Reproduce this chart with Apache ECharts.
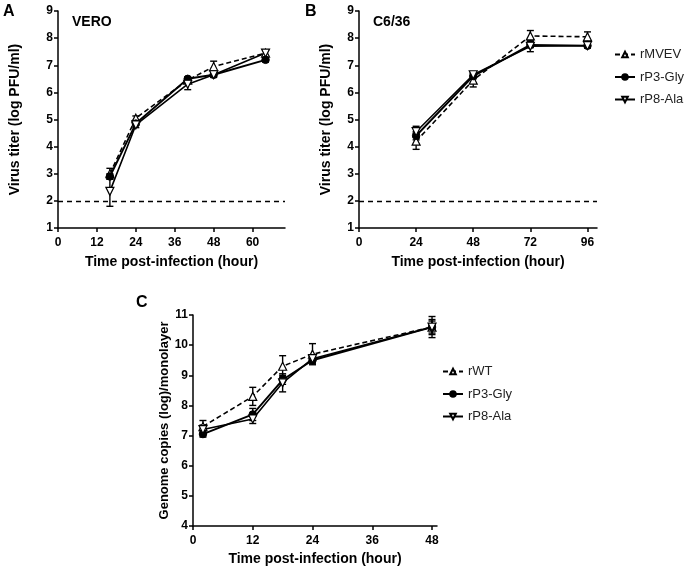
<!DOCTYPE html>
<html>
<head>
<meta charset="utf-8">
<script src="https://cdn.jsdelivr.net/npm/echarts@6/dist/echarts.min.js"></script>
<style>html,body{margin:0;padding:0;background:#fff}#c{width:685px;height:566px}</style>
</head>
<body>
<div id="c"></div>
<script>
// ---- Data ----
var timesA = [16, 24, 40, 48, 64];
var rMVEV_A = [3.0, 5.05, 6.45, 6.95, 7.45];
var rMVEV_A_err = [0.2, 0.08, 0.1, 0.2, 0.1];
var rP3_A = [2.9, 4.85, 6.5, 6.65, 7.2];
var rP3_A_err = [0.1, 0.05, 0.05, 0.08, 0.08];
var rP8_A = [2.35, 4.8, 6.3, 6.65, 7.45];
var rP8_A_err = [0.55, 0.1, 0.2, 0.1, 0.1];

var timesB = [24, 48, 72, 96];
var rMVEV_B = [4.2, 6.45, 8.08, 8.05];
var rMVEV_B_err = [0.3, 0.25, 0.2, 0.18];
var rP3_B = [4.4, 6.6, 7.75, 7.72];
var rP3_B_err = [0.15, 0.1, 0.1, 0.08];
var rP8_B = [4.55, 6.65, 7.7, 7.72];
var rP8_B_err = [0.2, 0.1, 0.2, 0.08];

var timesC = [2, 12, 18, 24, 48];
var rWT_C = [7.3, 8.3, 9.3, 9.7, 10.6];
var rWT_C_err = [0.2, 0.3, 0.35, 0.35, 0.35];
var rP3_C = [7.05, 7.7, 8.85, 9.5, 10.6];
var rP3_C_err = [0.1, 0.2, 0.15, 0.1, 0.25];
var rP8_C = [7.2, 7.55, 8.75, 9.55, 10.6];
var rP8_C_err = [0.15, 0.15, 0.3, 0.1, 0.2];

var xTicksA = [0, 12, 24, 36, 48, 60];
var xTicksB = [0, 24, 48, 72, 96];
var xTicksC = [0, 12, 24, 36, 48];
var detectionLimit = 2;

// ---- Helpers ----
var FONT = "'Liberation Sans', Arial, Helvetica, sans-serif";
function pairs(xs, ys) { return xs.map(function (x, i) { return [x, ys[i]]; }); }
function triples(xs, ys, es) { return xs.map(function (x, i) { return [x, ys[i], es[i]]; }); }

function errRender(params, api) {
  var x = api.value(0), y = api.value(1), e = api.value(2);
  var hi = api.coord([x, y + e]);
  var lo = api.coord([x, y - e]);
  var w = 3.5;
  var st = { stroke: '#000', lineWidth: 1.4 };
  return { type: 'group', children: [
    { type: 'line', shape: { x1: hi[0], y1: hi[1], x2: lo[0], y2: lo[1] }, style: st },
    { type: 'line', shape: { x1: hi[0] - w, y1: hi[1], x2: hi[0] + w, y2: hi[1] }, style: st },
    { type: 'line', shape: { x1: lo[0] - w, y1: lo[1], x2: lo[0] + w, y2: lo[1] }, style: st }
  ]};
}

var styles = {
  triUp: { symbol: 'triangle', symbolSize: 8, symbolRotate: 0,
    itemStyle: { color: '#fff', borderColor: '#000', borderWidth: 1.2 },
    lineStyle: { color: '#000', width: 1.6, type: [5, 3] } },
  circle: { symbol: 'circle', symbolSize: 7.5, symbolRotate: 0,
    itemStyle: { color: '#000', borderColor: '#000', borderWidth: 1 },
    lineStyle: { color: '#000', width: 1.9, type: 'solid' } },
  triDown: { symbol: 'triangle', symbolSize: 8, symbolRotate: 180,
    itemStyle: { color: '#fff', borderColor: '#000', borderWidth: 1.2 },
    lineStyle: { color: '#000', width: 1.6, type: 'solid' } }
};

function lineSeries(name, idx, xs, ys, st, extra) {
  var s = {
    type: 'line', name: name, xAxisIndex: idx, yAxisIndex: idx,
    data: pairs(xs, ys), symbol: st.symbol, symbolSize: st.symbolSize,
    symbolRotate: st.symbolRotate, showAllSymbol: true,
    itemStyle: st.itemStyle, lineStyle: st.lineStyle, z: 4
  };
  if (extra) for (var k in extra) s[k] = extra[k];
  return s;
}
function errSeries(name, idx, xs, ys, es) {
  return { type: 'custom', name: name, xAxisIndex: idx, yAxisIndex: idx,
    data: triples(xs, ys, es), renderItem: errRender,
    encode: { x: 0, y: 1 }, z: 3, silent: true };
}

var limitLine = {
  silent: true, symbol: ['none', 'none'], label: { show: false },
  lineStyle: { color: '#000', width: 1.4, type: [5, 4] },
  data: [{ yAxis: detectionLimit }]
};

function xAxis(idx, max, ticks, name, gap) {
  return {
    type: 'value', gridIndex: idx, min: 0, max: max, interval: ticks[1] - ticks[0],
    name: name, nameLocation: 'middle', nameGap: gap,
    nameTextStyle: { fontFamily: FONT, fontWeight: 'bold', fontSize: 14, color: '#000' },
    axisLine: { show: true, onZero: false, lineStyle: { color: '#000', width: 1.5 } },
    axisTick: { show: true, length: 4, customValues: ticks, lineStyle: { color: '#000', width: 1.5 } },
    axisLabel: { customValues: ticks, fontFamily: FONT, fontWeight: 'bold', fontSize: 12, color: '#000', margin: 9 },
    splitLine: { show: false }
  };
}
function yAxis(idx, min, max, name, gap, fs) {
  return {
    type: 'value', gridIndex: idx, min: min, max: max, interval: 1,
    name: name, nameLocation: 'middle', nameGap: gap,
    nameTextStyle: { fontFamily: FONT, fontWeight: 'bold', fontSize: fs, color: '#000' },
    axisLine: { show: true, onZero: false, lineStyle: { color: '#000', width: 1.5 } },
    axisTick: { show: true, length: 4, lineStyle: { color: '#000', width: 1.5 } },
    axisLabel: { fontFamily: FONT, fontWeight: 'bold', fontSize: 12, color: '#000', margin: 5 },
    splitLine: { show: false }
  };
}

var legendText = { fontFamily: FONT, fontSize: 13, color: '#222' };

var option = {
  animation: false,
  backgroundColor: '#fff',
  textStyle: { fontFamily: FONT },
  grid: [
    { left: 58, top: 11, width: 227, height: 217, containLabel: false, outerBoundsMode: 'none' },
    { left: 359, top: 11, width: 238, height: 217, containLabel: false, outerBoundsMode: 'none' },
    { left: 193, top: 315, width: 244, height: 211, containLabel: false, outerBoundsMode: 'none' }
  ],
  xAxis: [
    xAxis(0, 70, xTicksA, 'Time post-infection (hour)', 27),
    xAxis(1, 100, xTicksB, 'Time post-infection (hour)', 27),
    xAxis(2, 49, xTicksC, 'Time post-infection (hour)', 26)
  ],
  yAxis: [
    yAxis(0, 1, 9, 'Virus titer (log PFU/ml)', 36, 14),
    yAxis(1, 1, 9, 'Virus titer (log PFU/ml)', 26, 14),
    yAxis(2, 4, 11, 'Genome copies (log)/monolayer', 20, 13)
  ],
  legend: [
    { data: ['rMVEV', 'rP3-Gly', 'rP8-Ala'], orient: 'vertical', left: 614, top: 48, padding: 0,
      itemWidth: 20, itemHeight: 7, itemGap: 9.5, selectedMode: false, textStyle: legendText },
    { data: ['rWT', 'rP3-Gly', 'rP8-Ala'], orient: 'vertical', left: 442, top: 365, padding: 0,
      itemWidth: 20, itemHeight: 7, itemGap: 9.5, selectedMode: false, textStyle: legendText }
  ],
  graphic: [
    { type: 'text', left: 3, top: 4, style: { text: 'A', font: 'bold 16px ' + FONT, fill: '#000' } },
    { type: 'text', left: 305, top: 4, style: { text: 'B', font: 'bold 16px ' + FONT, fill: '#000' } },
    { type: 'text', left: 136, top: 295, style: { text: 'C', font: 'bold 16px ' + FONT, fill: '#000' } },
    { type: 'text', left: 72, top: 15, style: { text: 'VERO', font: 'bold 14px ' + FONT, fill: '#000' } },
    { type: 'text', left: 373, top: 15, style: { text: 'C6/36', font: 'bold 14px ' + FONT, fill: '#000' } }
  ],
  series: [
    lineSeries('rMVEV', 0, timesA, rMVEV_A, styles.triUp),
    lineSeries('rP3-Gly', 0, timesA, rP3_A, styles.circle, { markLine: limitLine }),
    lineSeries('rP8-Ala', 0, timesA, rP8_A, styles.triDown),
    errSeries('rMVEV', 0, timesA, rMVEV_A, rMVEV_A_err),
    errSeries('rP3-Gly', 0, timesA, rP3_A, rP3_A_err),
    errSeries('rP8-Ala', 0, timesA, rP8_A, rP8_A_err),

    lineSeries('rMVEV', 1, timesB, rMVEV_B, styles.triUp),
    lineSeries('rP3-Gly', 1, timesB, rP3_B, styles.circle, { markLine: limitLine }),
    lineSeries('rP8-Ala', 1, timesB, rP8_B, styles.triDown),
    errSeries('rMVEV', 1, timesB, rMVEV_B, rMVEV_B_err),
    errSeries('rP3-Gly', 1, timesB, rP3_B, rP3_B_err),
    errSeries('rP8-Ala', 1, timesB, rP8_B, rP8_B_err),

    lineSeries('rWT', 2, timesC, rWT_C, styles.triUp),
    lineSeries('rP3-Gly', 2, timesC, rP3_C, styles.circle),
    lineSeries('rP8-Ala', 2, timesC, rP8_C, styles.triDown),
    errSeries('rWT', 2, timesC, rWT_C, rWT_C_err),
    errSeries('rP3-Gly', 2, timesC, rP3_C, rP3_C_err),
    errSeries('rP8-Ala', 2, timesC, rP8_C, rP8_C_err)
  ]
};

var chart = echarts.init(document.getElementById('c'), null, { renderer: 'canvas' });
chart.setOption(option);
</script>
</body>
</html>
